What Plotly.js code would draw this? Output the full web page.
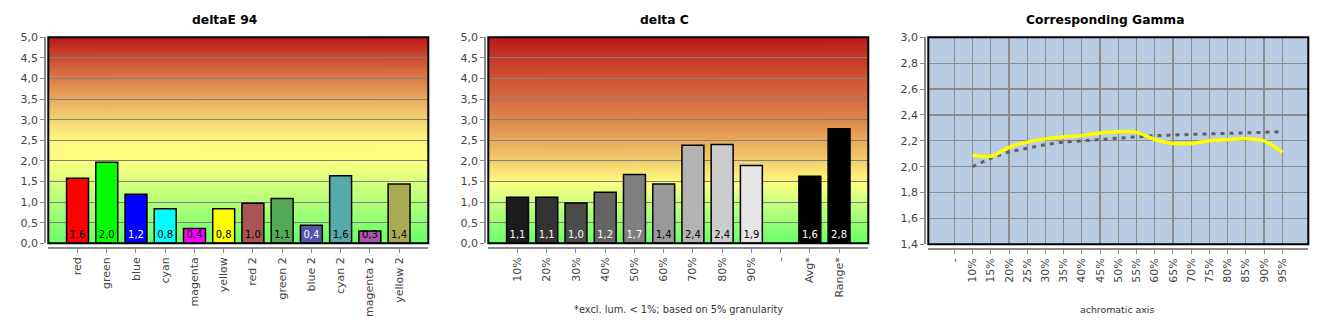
<!DOCTYPE html>
<html><head><meta charset="utf-8">
<script src="https://cdn.plot.ly/plotly-3.0.1.min.js"></script>
<style>html,body{margin:0;padding:0;background:#fff}#chart{width:1330px;height:330px}</style>
</head><body><div id="chart"></div>
<script>
// ---------- data ----------
const deltaECategories = ['red','green','blue','cyan','magenta','yellow','red 2','green 2','blue 2','cyan 2','magenta 2','yellow 2'];
const deltaEValues = [1.58,1.97,1.19,0.84,0.36,0.84,0.97,1.09,0.44,1.64,0.30,1.44];
const deltaEColors = ['#ff0000','#00ff00','#0000ff','#00ffff','#ff00ff','#ffff00','#aa5555','#55aa55','#5555aa','#55aaaa','#aa55aa','#aaaa55'];
const deltaELabelColors = ['#000','#000','#fff','#000','#000','#000','#000','#000','#fff','#000','#000','#000'];

const deltaCCategories = ['10%','20%','30%','40%','50%','60%','70%','80%','90%','-','Avg*','Range*'];
const deltaCValues = [1.12,1.12,0.98,1.24,1.67,1.44,2.38,2.40,1.89,null,1.63,2.78];
const deltaCColors = ['#1c1c1c','#333333','#4b4b4b','#646464','#7f7f7f','#999999','#b3b3b3','#cccccc','#e6e6e6','#000000','#000000','#000000'];
const deltaCLabelColors = ['#fff','#fff','#fff','#fff','#fff','#000','#000','#000','#000','#fff','#fff','#fff'];

const gammaCategories = ['-','10%','15%','20%','25%','30%','35%','40%','45%','50%','55%','60%','65%','70%','75%','80%','85%','90%','95%'];
const gammaMeasured = [null,2.09,2.08,2.15,2.19,2.215,2.23,2.24,2.26,2.27,2.265,2.21,2.18,2.18,2.20,2.21,2.215,2.20,2.11];
const gammaTarget   = [null,2.00,2.065,2.115,2.145,2.17,2.19,2.20,2.215,2.225,2.235,2.24,2.245,2.25,2.255,2.26,2.265,2.27,2.27];

// ---------- styling helpers ----------
const W = 1330, H = 330;
const px = v => v / W;
const py = v => 1 - v / H;
const FONT = 'DejaVu Sans, Verdana, sans-serif';
const LABEL_Y = 0.18;

function gradientURL(stops) {
  const c = document.createElement('canvas');
  c.width = 4; c.height = 500;
  const ctx = c.getContext('2d');
  const g = ctx.createLinearGradient(0, 500, 0, 0);
  stops.forEach(s => g.addColorStop(s[0], s[1]));
  ctx.fillStyle = g; ctx.fillRect(0, 0, 4, 500);
  return c.toDataURL();
}
const gradLeft = gradientURL([[0,'#66ff6a'],[0.2,'#b4ff7a'],[0.4,'#fdff80'],[0.5,'#fff880'],[0.6,'#f5d472'],[0.7,'#e9aa5c'],[0.8,'#db7c48'],[0.9,'#cc4a32'],[1,'#bb1818']]);
const gradMid  = gradientURL([[0,'#66ff6a'],[0.2,'#ccff80'],[0.29,'#ffff80'],[0.4,'#f3cf6e'],[0.5,'#e8a95a'],[0.6,'#df874c'],[0.7,'#d76c40'],[0.8,'#cf5334'],[0.9,'#c63828'],[1,'#bb1818']]);

const fmt = v => (v === null ? '' : v.toFixed(1).replace('.', ','));

function barTraces(cats, vals, cols, labelCols, xa, ya) {
  return [
    {type:'bar', x:cats, y:vals, xaxis:xa, yaxis:ya, width:0.75,
     marker:{color:cols, line:{color:'#000', width:1.5}}, hoverinfo:'skip'},
    {type:'scatter', mode:'text', x:cats, y:cats.map(() => LABEL_Y), xaxis:xa, yaxis:ya,
     text:vals.map(fmt), textposition:'middle center',
     textfont:{family:FONT, size:10, color:labelCols}, hoverinfo:'skip'}
  ];
}

const data = [
  ...barTraces(deltaECategories, deltaEValues, deltaEColors, deltaELabelColors, 'x', 'y'),
  ...barTraces(deltaCCategories, deltaCValues, deltaCColors, deltaCLabelColors, 'x2', 'y2'),
  {type:'scatter', mode:'lines', x:gammaCategories, y:gammaTarget, xaxis:'x3', yaxis:'y3',
   line:{color:'#606060', width:3, dash:'4px,5px'}, hoverinfo:'skip'},
  {type:'scatter', mode:'lines', x:gammaCategories, y:gammaMeasured, xaxis:'x3', yaxis:'y3',
   line:{color:'#ffff00', width:3.5, shape:'spline', smoothing:1}, hoverinfo:'skip'}
];

const tickFont = {family:FONT, size:11, color:'#444'};
function xAxis(domain, pos, n, range) {
  return {type:'category', domain:domain, anchor:'free', position:pos, range:range,
    showgrid:false, zeroline:false, showline:true, linecolor:'#8a8a8a', linewidth:1.5,
    ticks:'outside', ticklen:4, tickcolor:'#8a8a8a', tickangle:-90, tickfont:tickFont,
    fixedrange:true};
}
function yAxis(domain, pos, range, dtick, gridcolor) {
  return {domain:domain, anchor:'free', position:pos, range:range, dtick:dtick, tick0:range[0],
    tickformat:'.1f', showgrid:true, gridcolor:gridcolor, gridwidth:1, zeroline:false,
    showline:true, linecolor:'#8a8a8a', linewidth:1.5, ticks:'outside', ticklen:4,
    tickcolor:'#8a8a8a', tickfont:tickFont, fixedrange:true};
}

const ydom = [py(243.3), py(37.3)];
const ydom3 = [py(244.3), py(37.3)];
const xd1 = [px(48.3), px(428.3)], xd2 = [px(488.3), px(868.3)], xd3 = [px(928.3), px(1308.3)];

const layout = {
  width:W, height:H, margin:{l:0,r:0,t:0,b:0},
  paper_bgcolor:'#fff', plot_bgcolor:'#fff', showlegend:false, separators:', ',
  font:{family:FONT, color:'#444'},
  xaxis: xAxis(xd1, py(247.3), 12, [-1, 12]),
  yaxis: yAxis(ydom, px(44.3), [0, 5], 0.5, '#808080'),
  xaxis2: xAxis(xd2, py(247.3), 12, [-1, 12]),
  yaxis2: yAxis(ydom, px(484.3), [0, 5], 0.5, '#808080'),
  xaxis3: Object.assign(xAxis(xd3, py(248.3), 19, [-1.43, 19.43]), {showgrid:true, gridcolor:'#8c8c8c', gridwidth:1.2}),
  yaxis3: Object.assign(yAxis(ydom3, px(924.3), [1.4, 3.0], 0.2, '#8c8c8c'), {gridwidth:1.2}),
  images: [
    {source:gradLeft, xref:'x domain', yref:'y domain', x:0, y:1, sizex:1, sizey:1, sizing:'stretch', xanchor:'left', yanchor:'top', layer:'below'},
    {source:gradMid, xref:'x2 domain', yref:'y2 domain', x:0, y:1, sizex:1, sizey:1, sizing:'stretch', xanchor:'left', yanchor:'top', layer:'below'}
  ],
  shapes: [
    {type:'rect', xref:'x3 domain', yref:'y3 domain', x0:0, x1:1, y0:0, y1:1, fillcolor:'#b8cce4', line:{width:0}, layer:'below'},
    {type:'rect', xref:'x domain', yref:'y domain', x0:0, x1:1, y0:0, y1:1, line:{color:'#000', width:2}, layer:'above'},
    {type:'rect', xref:'x2 domain', yref:'y2 domain', x0:0, x1:1, y0:0, y1:1, line:{color:'#000', width:2}, layer:'above'},
    {type:'rect', xref:'x3 domain', yref:'y3 domain', x0:0, x1:1, y0:0, y1:1, line:{color:'#000', width:2}, layer:'above'}
  ],
  annotations: [
    {text:'<b>deltaE 94</b>', xref:'paper', yref:'paper', x:px(224.7), y:py(20), xanchor:'center', yanchor:'middle', showarrow:false, font:{family:FONT, size:12.3, color:'#000'}},
    {text:'<b>delta C</b>', xref:'paper', yref:'paper', x:px(664.5), y:py(20), xanchor:'center', yanchor:'middle', showarrow:false, font:{family:FONT, size:12.3, color:'#000'}},
    {text:'<b>Corresponding Gamma</b>', xref:'paper', yref:'paper', x:px(1104.8), y:py(20), xanchor:'center', yanchor:'middle', showarrow:false, font:{family:FONT, size:12.3, color:'#000'}},
    {text:'*excl. lum. &lt; 1%; based on 5% granularity', xref:'paper', yref:'paper', x:px(678), y:py(309), xanchor:'center', yanchor:'middle', showarrow:false, font:{family:FONT, size:9.8, color:'#333'}},
    {text:'achromatic axis', xref:'paper', yref:'paper', x:px(1117), y:py(309), xanchor:'center', yanchor:'middle', showarrow:false, font:{family:FONT, size:9.4, color:'#333'}}
  ]
};

Plotly.newPlot('chart', data, layout, {staticPlot:true, displayModeBar:false});
</script>
</body></html>
